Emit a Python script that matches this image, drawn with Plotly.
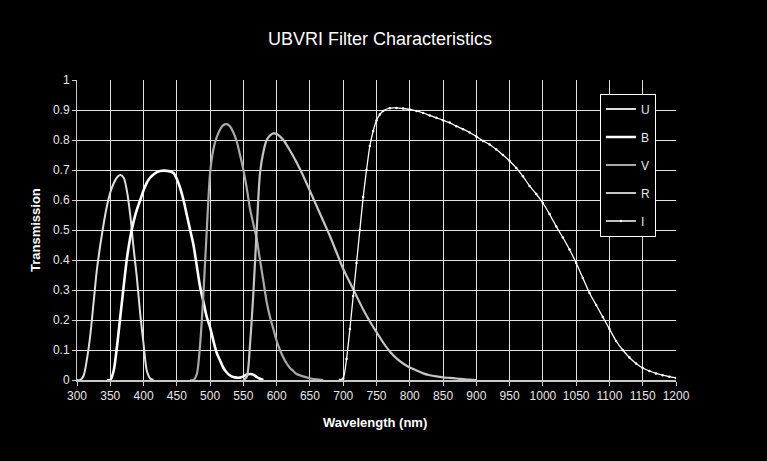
import plotly.graph_objects as go

# ---- data ----
u_wl = [300, 305, 310, 315, 320, 325, 330, 335, 340, 345, 350, 355, 360, 365, 370, 375, 380, 385, 390, 395, 400, 405, 410, 415]
u_tr = [0, 0.0, 0.015, 0.07, 0.15, 0.26, 0.37, 0.45, 0.52, 0.58, 0.625, 0.655, 0.675, 0.683, 0.675, 0.63, 0.55, 0.44, 0.34, 0.22, 0.12, 0.03, 0.005, 0]

b_wl = [345, 350, 355, 360, 365, 370, 375, 380, 385, 390, 395, 400, 405, 410, 415, 420, 425, 430, 435, 440, 445, 450,
        455, 460, 465, 470, 475, 480, 485, 490, 495, 500, 505, 510, 515, 520, 525, 530, 535, 540, 545, 550, 555, 560,
        565, 570, 575, 580]
b_tr = [0, 0.0, 0.03, 0.11, 0.21, 0.31, 0.405, 0.475, 0.528, 0.568, 0.6, 0.632, 0.658, 0.675, 0.685, 0.693, 0.697, 0.698,
        0.697, 0.695, 0.69, 0.67, 0.64, 0.6, 0.55, 0.5, 0.45, 0.38, 0.31, 0.26, 0.21, 0.175, 0.13, 0.09, 0.065, 0.04,
        0.025, 0.015, 0.01, 0.008, 0.008, 0.012, 0.018, 0.02, 0.018, 0.01, 0.004, 0]

v_wl = [470, 475, 480, 485, 490, 495, 500, 505, 510, 515, 520, 525, 530, 535, 540, 545, 550, 555, 560, 565, 570, 575,
        580, 585, 590, 595, 600, 605, 610, 615, 620, 625, 630, 640, 650, 660, 670]
v_tr = [0, 0.0, 0.02, 0.12, 0.29, 0.5, 0.69, 0.77, 0.81, 0.835, 0.85, 0.853, 0.845, 0.825, 0.795, 0.75, 0.7, 0.64,
        0.57, 0.52, 0.47, 0.4, 0.33, 0.26, 0.21, 0.17, 0.13, 0.1, 0.075, 0.055, 0.04, 0.03, 0.02, 0.012, 0.006, 0.002, 0]

r_wl = [550, 555, 560, 565, 570, 575, 580, 585, 590, 595, 600, 610, 620, 630, 640, 650, 660, 670, 680, 690, 700, 710,
        720, 730, 740, 750, 760, 770, 780, 790, 800, 810, 820, 830, 840, 850, 860, 870, 880, 890, 900]
r_tr = [0, 0.01, 0.12, 0.29, 0.5, 0.69, 0.76, 0.8, 0.815, 0.822, 0.82, 0.8, 0.765, 0.725, 0.68, 0.63, 0.58, 0.53,
        0.48, 0.425, 0.37, 0.325, 0.28, 0.235, 0.195, 0.16, 0.125, 0.095, 0.072, 0.055, 0.042, 0.032, 0.022, 0.016,
        0.012, 0.009, 0.007, 0.005, 0.003, 0.001, 0]

i_wl = [695, 700, 705, 710, 715, 720, 725, 730, 735, 740, 745, 750, 755, 760, 770, 780, 790, 800, 810, 820, 830, 840,
        850, 860, 870, 880, 890, 900, 910, 920, 930, 940, 950, 960, 970, 980, 990, 1000, 1010, 1020, 1030, 1040, 1050,
        1060, 1070, 1080, 1090, 1100, 1110, 1120, 1130, 1140, 1150, 1160, 1170, 1180, 1190, 1200]
i_tr = [0, 0.005, 0.07, 0.17, 0.28, 0.39, 0.5, 0.61, 0.7, 0.78, 0.83, 0.865, 0.885, 0.897, 0.906, 0.907, 0.905, 0.902,
        0.897, 0.89, 0.882, 0.874, 0.866, 0.858, 0.846, 0.836, 0.825, 0.812, 0.797, 0.785, 0.768, 0.75, 0.73, 0.707,
        0.679, 0.647, 0.62, 0.59, 0.553, 0.512, 0.475, 0.435, 0.39, 0.34, 0.29, 0.25, 0.21, 0.17, 0.13, 0.1, 0.075,
        0.055, 0.04, 0.03, 0.022, 0.016, 0.011, 0.007]

x_ticks = list(range(300, 1201, 50))
y_ticks = [0, 0.1, 0.2, 0.3, 0.4, 0.5, 0.6, 0.7, 0.8, 0.9, 1]
y_tick_text = ["0", "0.1", "0.2", "0.3", "0.4", "0.5", "0.6", "0.7", "0.8", "0.9", "1"]

FONT = "Liberation Sans, Arial, sans-serif"

fig = go.Figure()
series = [
    ("U", u_wl, u_tr, "#dedede", 2.0),
    ("B", b_wl, b_tr, "#ffffff", 2.6),
    ("V", v_wl, v_tr, "#a8a8a8", 2.2),
    ("R", r_wl, r_tr, "#c4c4c4", 2.2),
]
for name, xs, ys, col, w in series:
    fig.add_trace(go.Scatter(x=xs, y=ys, name=name, mode="lines", legendgroup=name,
                             line=dict(color=col, width=w, shape="spline", smoothing=0.8)))
fig.add_trace(go.Scatter(x=i_wl, y=i_tr, name="I", mode="lines+markers", legendgroup="I",
                         line=dict(color="#ffffff", width=1.3, shape="spline", smoothing=0.6),
                         marker=dict(color="#ffffff", size=2.5)))

fig.update_layout(
    width=767, height=461,
    paper_bgcolor="black", plot_bgcolor="black",
    margin=dict(l=77, r=91, t=80, b=81),
    font=dict(family=FONT, color="#e6e6e6", size=12),
    showlegend=True,
    legend=dict(x=0.873, y=0.955, xanchor="left", yanchor="top",
                bgcolor="black", bordercolor="#ffffff", borderwidth=1,
                font=dict(size=12, color="#e6e6e6"), tracegroupgap=9,
                itemwidth=30),
    xaxis=dict(range=[300, 1200], tickvals=x_ticks, ticktext=[str(t) for t in x_ticks],
               showgrid=True, gridcolor="#e0e0e0", gridwidth=1, zeroline=False,
               showline=True, linecolor="#c8c8c8", linewidth=1.5,
               ticks="outside", ticklen=4, tickcolor="#c8c8c8",
               tickfont=dict(size=12, color="#e6e6e6")),
    yaxis=dict(range=[0, 1], tickvals=y_ticks, ticktext=y_tick_text,
               showgrid=True, gridcolor="#e0e0e0", gridwidth=1, zeroline=False,
               showline=True, linecolor="#c8c8c8", linewidth=1,
               ticks="outside", ticklen=4, tickcolor="#c8c8c8",
               tickfont=dict(size=12, color="#e6e6e6")),
    annotations=[
        dict(text="UBVRI Filter Characteristics", xref="paper", yref="paper", x=0.506, y=1.0,
             yshift=41.5, showarrow=False, xanchor="center", yanchor="middle",
             font=dict(size=18, color="#ffffff", family=FONT)),
        dict(text="<b>Wavelength (nm)</b>", xref="paper", yref="paper", x=0.497, y=0,
             yshift=-42, showarrow=False, xanchor="center", yanchor="middle",
             font=dict(size=13, color="#ffffff", family=FONT)),
        dict(text="<b>Transmission</b>", xref="paper", yref="paper", x=0, y=0.5,
             xshift=-42, showarrow=False, xanchor="center", yanchor="middle", textangle=-90,
             font=dict(size=13, color="#ffffff", family=FONT)),
    ],
)

fig.write_html("out.html")
